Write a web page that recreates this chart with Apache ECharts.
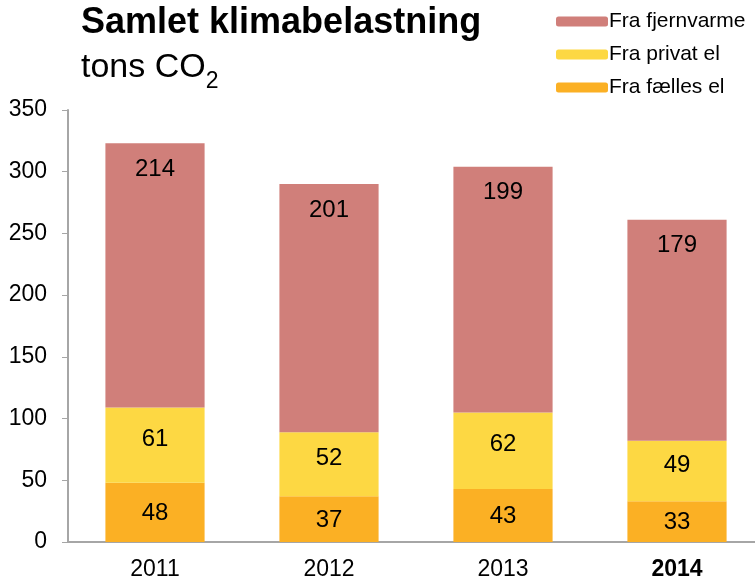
<!DOCTYPE html>
<html>
<head>
<meta charset="utf-8">
<script src="https://cdn.jsdelivr.net/npm/echarts@6/dist/echarts.min.js"></script>
<style>
  html, body { margin: 0; padding: 0; background: #fff; overflow: hidden; }
</style>
</head>
<body>
<div id="chart" style="width: 764px;height: 585px;"></div>
<script>
// data
var years = ['2011', '2012', '2013', '2014']
var faellesEl = [48, 37, 43, 33]
var privatEl = [61, 52, 62, 49]
var fjernvarme = [214, 201, 199, 179]

var font = 'Liberation Sans, Arial, sans-serif'
var chart = echarts.init(document.getElementById('chart'))

function makeSeries(name, data, color, labelPos, offsetY) {
    return {
        name: name,
        type: 'bar',
        stack: 'total',
        barWidth: '57%',
        data: data,
        itemStyle: { color: color },
        label: {
            show: true,
            position: labelPos,
            distance: 14,
            offset: [0, offsetY],
            color: '#000',
            fontFamily: font,
            fontSize: 24
        }
    }
}

var option = {
    animation: false,
    title: [
        {
            text: 'Samlet klimabelastning',
            left: 76,
            top: 0,
            textStyle: { fontFamily: font, fontSize: 36, fontWeight: 'bold', color: '#000' }
        },
        {
            text: '{a|tons CO}{b|2}',
            left: 76,
            top: 42,
            textStyle: {
                fontFamily: font,
                fontWeight: 'normal',
                color: '#000',
                rich: {
                    a: { fontFamily: font, fontSize: 34, fontWeight: 'normal', color: '#000', lineHeight: 38, verticalAlign: 'bottom' },
                    b: { fontFamily: font, fontSize: 23, fontWeight: 'normal', color: '#000', lineHeight: 38, verticalAlign: 'bottom', padding: [0, 0, -8, 0] }
                }
            }
        }
    ],
    legend: {
        data: ['Fra fjernvarme', 'Fra privat el', 'Fra fælles el'],
        orient: 'vertical',
        left: 551,
        top: 6,
        itemWidth: 52,
        itemHeight: 10,
        itemGap: 12,
        textStyle: { fontFamily: font, fontSize: 21, color: '#000', padding: [0, 0, 0, -4] },
        selectedMode: false
    },
    grid: { left: 68, right: 0, top: 110, bottom: 43 },
    xAxis: {
        type: 'category',
        data: years,
        axisLine: { lineStyle: { color: '#A6A6A6', width: 2 } },
        axisTick: { show: false },
        axisLabel: {
            fontFamily: font,
            fontSize: 23,
            color: '#000',
            margin: 16,
            formatter: function (v) { return v === '2014' ? '{b|' + v + '}' : v },
            rich: { b: { fontFamily: font, fontSize: 23, fontWeight: 'bold', color: '#000' } }
        }
    },
    yAxis: {
        type: 'value',
        min: 0,
        max: 350,
        interval: 50,
        axisLine: { show: true, lineStyle: { color: '#A6A6A6', width: 2 } },
        axisTick: { show: true, length: 6, lineStyle: { color: '#A6A6A6', width: 1 } },
        splitLine: { show: false },
        axisLabel: { fontFamily: font, fontSize: 23, color: '#000', margin: 21 }
    },
    series: [
        makeSeries('Fra fælles el', faellesEl, '#FBB024', 'inside', 1),
        makeSeries('Fra privat el', privatEl, '#FDD843', 'inside', -6),
        makeSeries('Fra fjernvarme', fjernvarme, '#D07F7A', 'insideTop', 0)
    ]
}
option && chart.setOption(option)
</script>
</body>
</html>
